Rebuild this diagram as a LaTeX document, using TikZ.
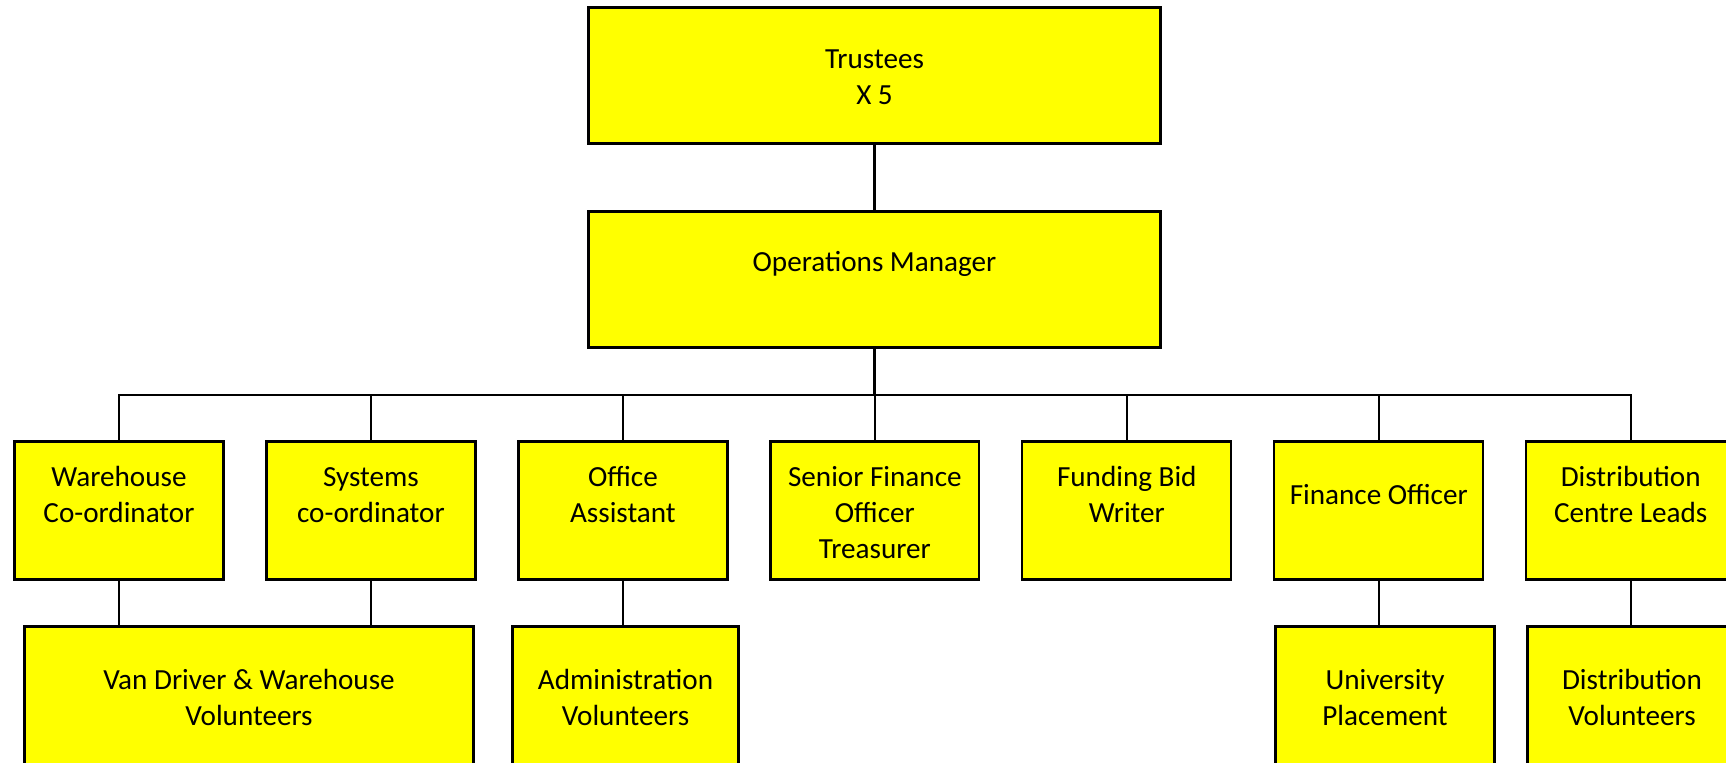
\documentclass[tikz,border=0pt]{standalone}
\usepackage{fontspec}
\setmainfont{Carlito}
\usetikzlibrary{positioning}

\definecolor{boxyellow}{RGB}{255,255,0}
\tikzset{
  box/.style={draw, line width=1.3pt, fill=boxyellow, minimum width=4.18cm, minimum height=2.76cm},
  wide/.style={box, minimum width=11.44cm, minimum height=2.72cm},
  txt/.style={align=center, anchor=center, font=\fontsize{16.6}{20.5}\selectfont}
}

\begin{document}
\begin{tikzpicture}[x=0.02cm,y=-0.02cm,node distance=5.04cm,on grid,line width=1.2pt]
    \useasboundingbox (0,0) rectangle (1726,763);
    \clip (0,0) rectangle (1726,763);
    % top two levels
    \node[wide] (trustees) at (874.5,75.5)  {};
    \node[wide] (opsman)   at (874.5,279.5) {};
    \node[txt] [below=1.41cm of trustees.north, anchor=center] {Trustees\\X 5};
    \node[txt] [below=1.08cm of opsman.north, anchor=center]   {Operations Manager};
    % second level
    \node[box] (warehouse)             at (119,510.5)           {};
    \node[box] (systems)      [right=of warehouse]  {};
    \node[box] (office)       [right=of systems]    {};
    \node[box] (seniorfin)    [right=of office]     {};
    \node[box] (funding)      [right=of seniorfin]  {};
    \node[box] (finofficer)   [right=of funding]    {};
    \node[box] (distcentre)   [right=of finofficer] {};
    \node[txt] [below=1.09cm of warehouse.north, anchor=center]  {Warehouse\\Co-ordinator};
    \node[txt] [below=1.09cm of systems.north, anchor=center]    {Systems\\co-ordinator};
    \node[txt] [below=1.09cm of office.north, anchor=center]     {Office\\Assistant};
    \node[txt] [below=1.44cm of seniorfin.north, anchor=center]  {Senior Finance\\Officer\\Treasurer};
    \node[txt] [below=1.09cm of funding.north, anchor=center]    {Funding Bid\\Writer};
    \node[txt] [below=1.08cm of finofficer.north, anchor=center] {Finance Officer};
    \node[txt] [below=1.09cm of distcentre.north, anchor=center] {Distribution\\Centre Leads};
    % third level
    \node[box, minimum width=8.98cm] (vandriver)  at (249,695.5)    {};
    \node[box, minimum width=4.52cm] (adminvol)   at (625.5,695.5)  {};
    \node[box, minimum width=4.38cm] (uniplace)   at (1385,695.5)   {};
    \node[box]                      (distvol)    at (1632,695.5)   {};
    \node[txt] [below=1.44cm of vandriver.north, anchor=center] {Van Driver \& Warehouse\\Volunteers};
    \node[txt] [below=1.44cm of adminvol.north, anchor=center]  {Administration\\Volunteers};
    \node[txt] [below=1.44cm of uniplace.north, anchor=center]  {University\\Placement};
    \node[txt] [below=1.44cm of distvol.north, anchor=center]   {Distribution\\Volunteers};
    % connectors
    \coordinate (bus) at (874.5,395);
    \draw (trustees.south) -- (opsman.north);
    \draw (opsman.south) -- (bus);
    \foreach \n in {warehouse,systems,office,seniorfin,funding,finofficer,distcentre}
      \draw (bus) -| (\n.north);
    \draw (warehouse.south)  -- (warehouse.south |- vandriver.north);
    \draw (systems.south)    -- (systems.south |- vandriver.north);
    \draw (office.south)     -- (office.south |- adminvol.north);
    \draw (finofficer.south) -- (finofficer.south |- uniplace.north);
    \draw (distcentre.south) -- (distcentre.south |- distvol.north);
\end{tikzpicture}
\end{document}
